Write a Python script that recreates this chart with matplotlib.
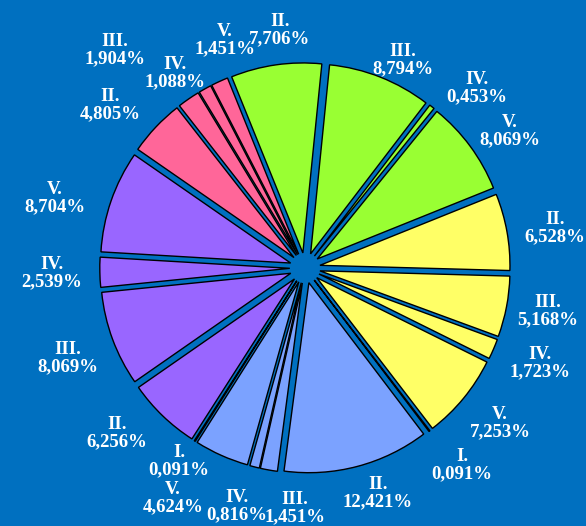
import matplotlib
matplotlib.use("Agg")
import matplotlib.pyplot as plt

# ---- data ----
groups = ["green"] * 4 + ["yellow"] * 5 + ["blue"] * 5 + ["purple"] * 4 + ["pink"] * 4
categories = ["II.", "III.", "IV.", "V.",
              "II.", "III.", "IV.", "V.", "I.",
              "II.", "III.", "IV.", "V.", "I.",
              "II.", "III.", "IV.", "V.",
              "II.", "III.", "IV.", "V."]
values = [7.706, 8.794, 0.453, 8.069,
          6.528, 5.168, 1.723, 7.253, 0.091,
          12.421, 1.451, 0.816, 4.624, 0.091,
          6.256, 8.069, 2.539, 8.704,
          4.805, 1.904, 1.088, 1.451]
value_text = ["7,706%", "8,794%", "0,453%", "8,069%",
              "6,528%", "5,168%", "1,723%", "7,253%", "0,091%",
              "12,421%", "1,451%", "0,816%", "4,624%", "0,091%",
              "6,256%", "8,069%", "2,539%", "8,704%",
              "4,805%", "1,904%", "1,088%", "1,451%"]

# ---- style / layout ----
group_colors = {"green": "#99FF33", "yellow": "#FFFF66", "blue": "#7BA2FF",
                "purple": "#9966FF", "pink": "#FF6699"}
bg = "#0070C0"
W, H = 586, 526
cx, cy, R = 305, 268, 190          # pie centre / radius in pixels
# label centres in pixels (layout only)
label_px = [(280, 30), (403, 60), (477, 88), (510, 131),
            (555, 228), (548, 311), (540, 363), (500, 423), (462, 465),
            (378, 493), (295, 508), (237, 506), (173, 498), (179, 461),
            (117, 433), (68, 358), (52, 273), (55, 198),
            (110, 105), (115, 50), (175, 73), (225, 40)]

fig = plt.figure(figsize=(W / 100, H / 100), dpi=100, facecolor=bg)
ax = fig.add_axes([0, 0, 1, 1])
ax.set_facecolor(bg)

colors = [group_colors[g] for g in groups]
wedges, _ = ax.pie(values, colors=colors, startangle=112, counterclock=False,
                   explode=[0.08] * len(values), radius=1.0,
                   wedgeprops=dict(edgecolor="black", linewidth=1.0))

ax.set_xlim(-cx / R, (W - cx) / R)
ax.set_ylim(-(H - cy) / R, cy / R)
ax.set_aspect("auto")
ax.axis("off")

for cat, vt, (px, py) in zip(categories, value_text, label_px):
    ax.text((px - cx) / R, (cy - py) / R, f"{cat}\n{vt}", ha="center", va="center",
            color="white", fontsize=13.5, fontweight="bold",
            family="Liberation Serif", linespacing=1.05)

fig.savefig("out.png", dpi=100, facecolor=bg)
